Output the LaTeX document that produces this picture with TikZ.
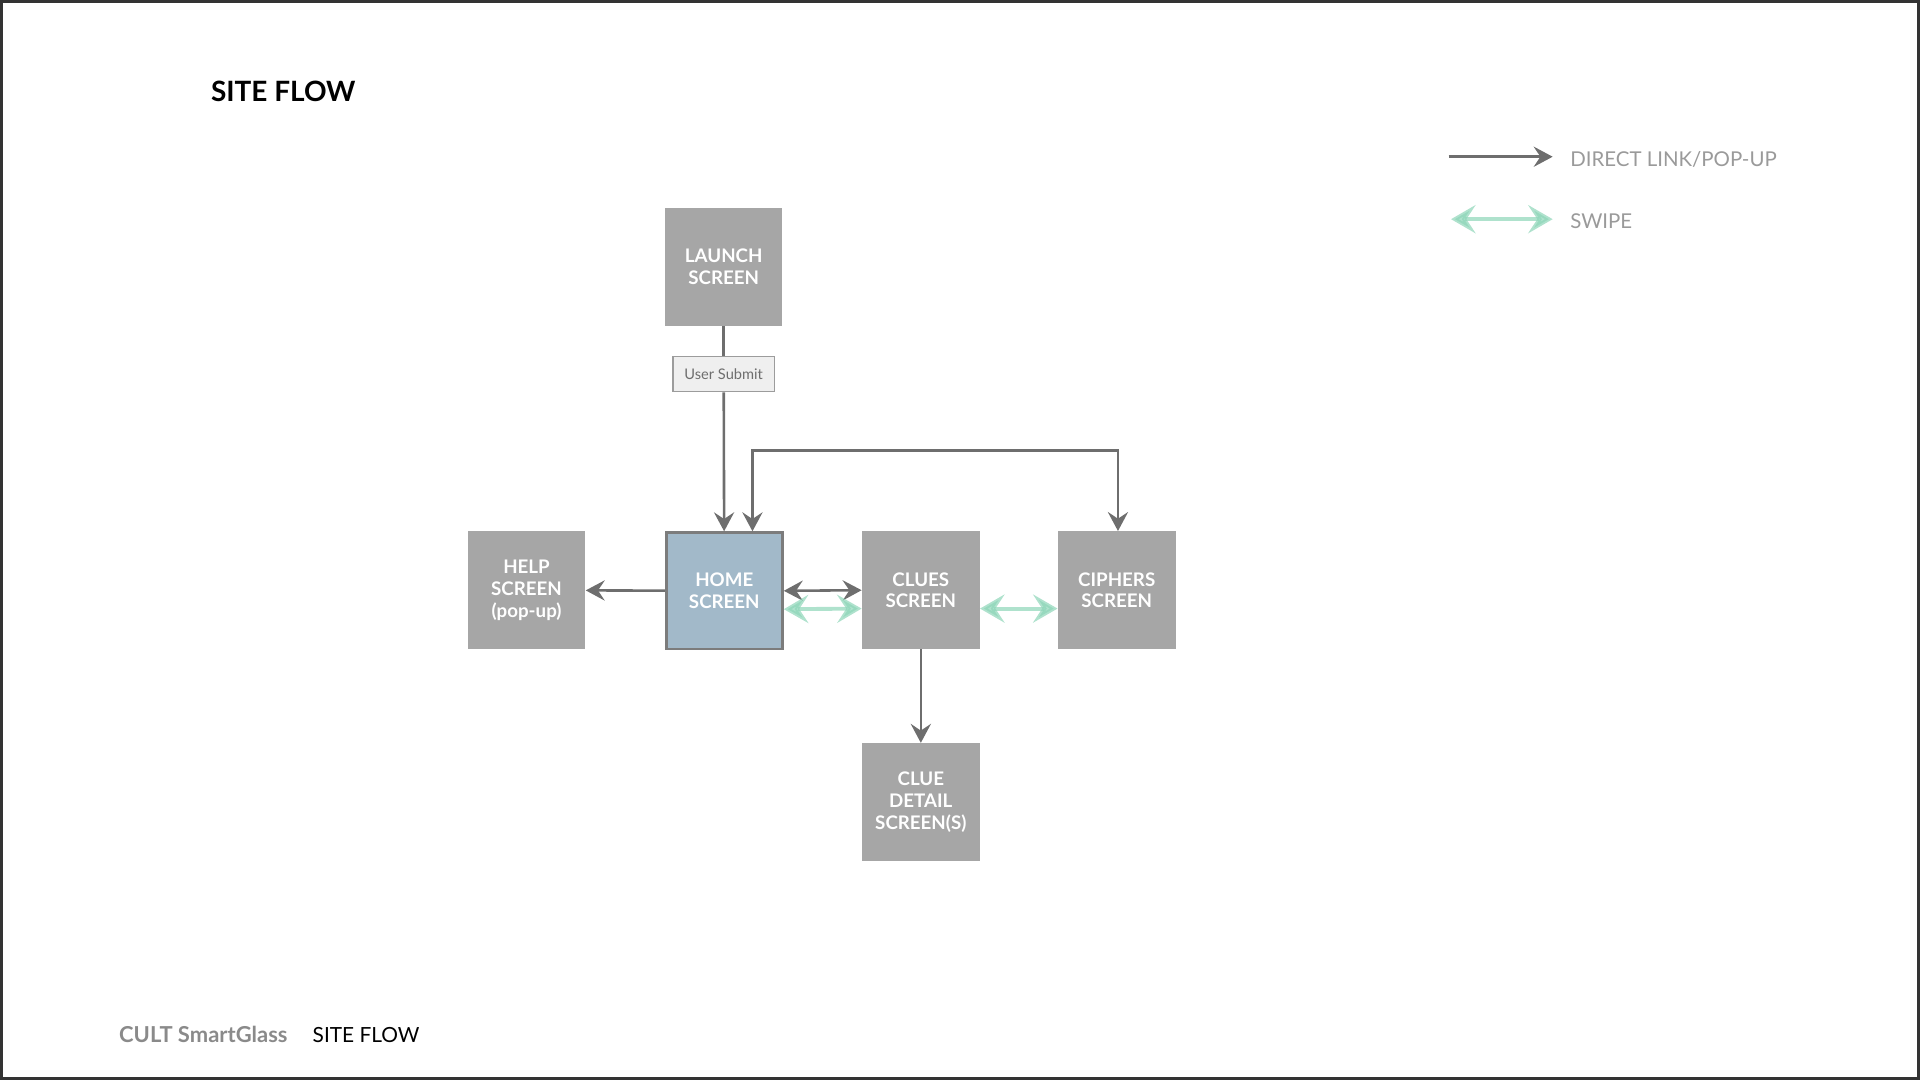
\documentclass[tikz,border=0pt]{standalone}
\usepackage{fontspec}
\setmainfont{Lato}
\usetikzlibrary{arrows.meta}
\definecolor{boxgray}{HTML}{A6A6A6}
\definecolor{linkgray}{HTML}{6E6E6E}
\definecolor{homeblue}{HTML}{A2B9C9}
\definecolor{homeedge}{HTML}{7C7C7C}
\definecolor{submitfill}{HTML}{EFEFEF}
\definecolor{submitedge}{HTML}{9C9C9C}
\definecolor{legendgray}{HTML}{9A9A9A}
\definecolor{footgray}{HTML}{8A8A8A}
\definecolor{swipegreen}{HTML}{8DD5B8}
\definecolor{framegray}{HTML}{333333}

\begin{document}
\begin{tikzpicture}[
        screen/.style={fill=boxgray, minimum size=1.92cm, inner sep=0pt, align=center, text=white, font=\fontsize{8.7}{10.2}\selectfont\bfseries},
        link/.style={draw=linkgray, line width=1.2pt, -{Stealth[length=0.31cm, width=0.33cm, inset=0.11cm]}},
        swipe/.style={draw=swipegreen, line width=1.8pt, opacity=0.7, {Stealth[length=0.4cm, width=0.46cm, inset=0.15cm]}-{Stealth[length=0.4cm, width=0.46cm, inset=0.15cm]}}
    ]
        \useasboundingbox (0,0) rectangle (31.36,-17.64);
        \draw[framegray, line width=0.05cm](0.025,-0.025) rectangle (31.335,-17.615);
        \node[anchor=base west, inner sep=0pt, font=\fontsize{13}{16}\selectfont\bfseries] (title) at (3.44,-1.66){SITE FLOW};
        \node[screen] (launch) at (11.82,-4.36){LAUNCH\\SCREEN};
        \node[draw=submitedge, line width=0.6pt, fill=submitfill, minimum width=1.66cm, minimum height=0.58cm, inner sep=0pt, text=linkgray, font=\fontsize{6.8}{8}\selectfont] (submit) at (11.82,-6.11){User Submit};
        \node[screen, fill=homeblue, draw=homeedge, line width=0.045cm, minimum size=1.9cm] (home) at (11.83,-9.65){HOME\\SCREEN};
        \node[screen] (help) at (8.60,-9.64){HELP\\SCREEN\\(pop-up)};
        \node[screen] (clues) at (15.04,-9.64){CLUES\\SCREEN};
        \node[screen] (ciphers) at (18.24,-9.64){CIPHERS\\SCREEN};
        \node[screen] (detail) at (15.04,-13.10){CLUE\\DETAIL\\SCREEN(S)};
        \draw[linkgray, line width=1.2pt](launch) -- (submit);
        \draw[link](submit) -- (home);
        \draw[link, {Stealth[length=0.31cm, width=0.33cm, inset=0.11cm]}-{Stealth[length=0.31cm, width=0.33cm, inset=0.11cm]}]([xshift=0.46cm]home.north) -- ++(0,1.32) -| ([xshift=0.02cm]ciphers.north);
        \draw[link](home) -- (help);
        \draw[link, {Stealth[length=0.31cm, width=0.33cm, inset=0.11cm]}-{Stealth[length=0.31cm, width=0.33cm, inset=0.11cm]}](home.east) -- (clues.west);
        \draw[swipe]([yshift=-0.3cm]home.east) -- ([yshift=-0.3cm]clues.west);
        \draw[swipe]([yshift=-0.3cm]clues.east) -- ([yshift=-0.3cm]ciphers.west);
        \draw[link](clues) -- (detail);
        \coordinate (linkstart) at (23.66,-2.56);
        \coordinate (swipestart) at (23.70,-3.58);
        \node[anchor=west, inner sep=0pt, text=legendgray, font=\fontsize{9.5}{11}\selectfont] (linktext) at (25.64,-2.6){DIRECT LINK/POP-UP};
        \node[anchor=west, inner sep=0pt, text=legendgray, font=\fontsize{9.5}{11}\selectfont] (swipetext) at (25.64,-3.62){SWIPE};
        \draw[link](linkstart) -- ([xshift=-0.28cm]linktext.west |- linkstart);
        \draw[swipe](swipestart) -- ([xshift=-0.28cm]swipetext.west |- swipestart);
        \node[anchor=base west, inner sep=0pt, text=footgray, font=\fontsize{10.2}{12}\selectfont\bfseries] (brand) at (1.94,-17.02){CULT SmartGlass};
        \node[anchor=base west, inner sep=0pt, font=\fontsize{9.7}{12}\selectfont] (section) at (5.10,-17.02){SITE FLOW};
    \end{tikzpicture}
\end{document}
